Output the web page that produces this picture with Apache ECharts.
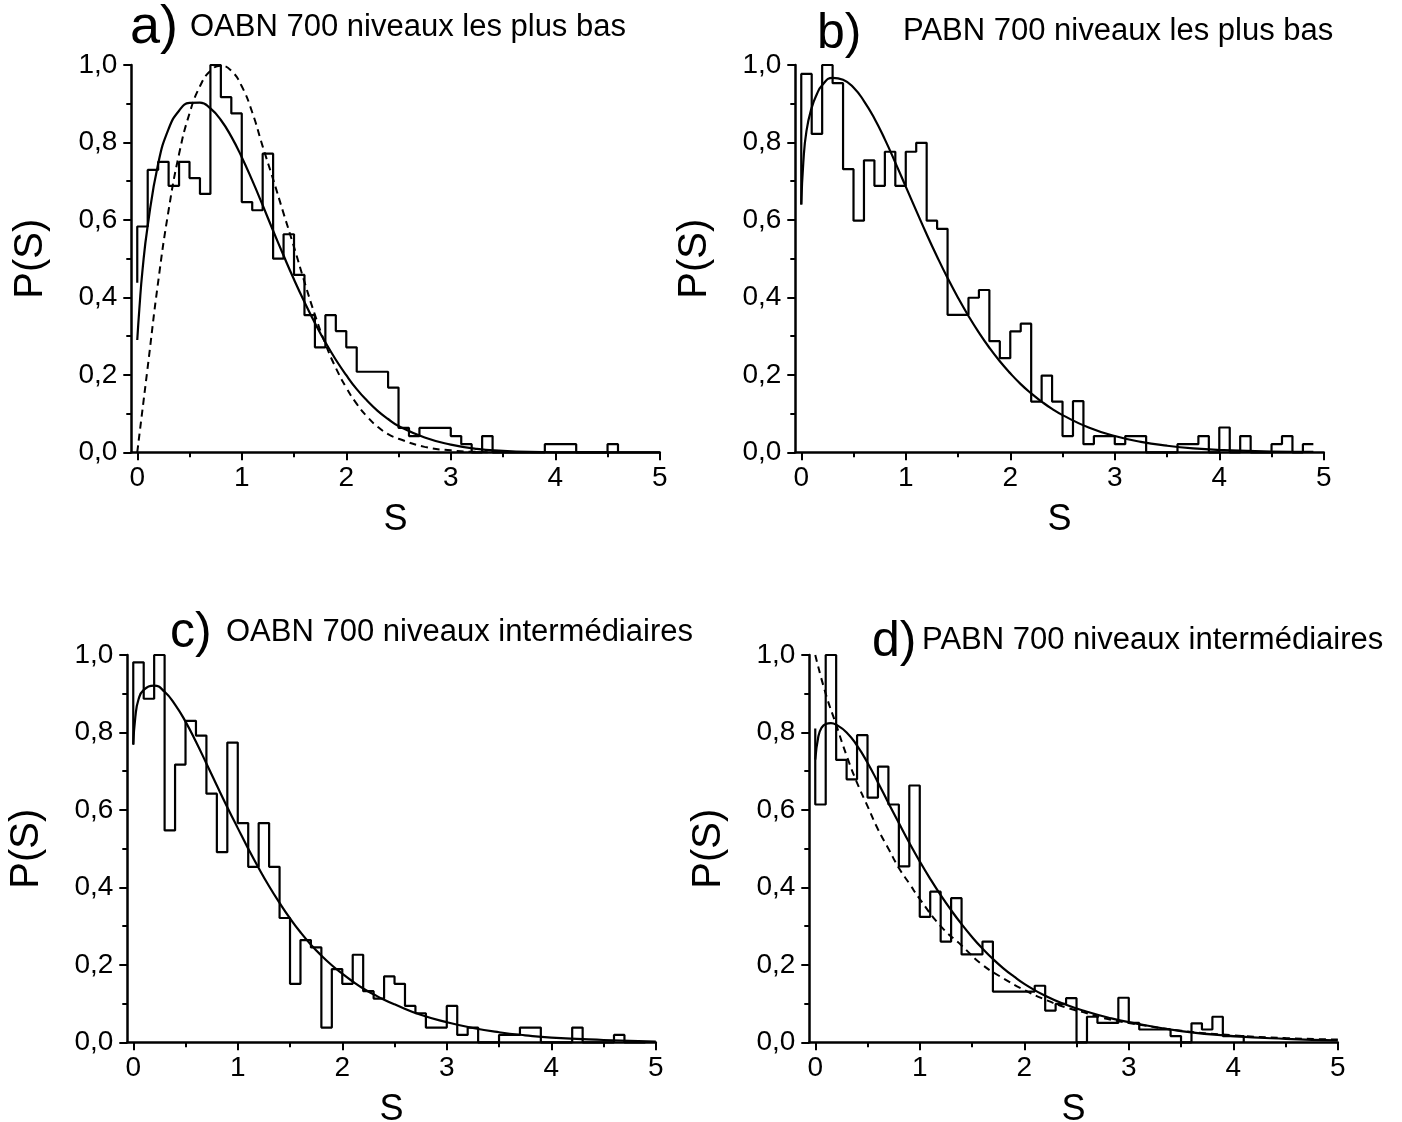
<!DOCTYPE html>
<html>
<head>
<meta charset="utf-8">
<script src="https://cdn.jsdelivr.net/npm/echarts@6/dist/echarts.min.js"></script>
<style>
html,body{margin:0;padding:0;background:#fff;}
#chart{width:1402px;height:1122px;}
</style>
</head>
<body>
<div id="chart"></div>
<script>
// ---------- data ----------
const binWidth = 0.1;
const xMajorTicks = [0, 1, 2, 3, 4, 5];
const xMinorTicks = [0.5, 1.5, 2.5, 3.5, 4.5];

const panelTitles = ['OABN 700 niveaux les plus bas', 'PABN 700 niveaux les plus bas',
                     'OABN 700 niveaux intermédiaires', 'PABN 700 niveaux intermédiaires'];
const panelLetters = ['a)', 'b)', 'c)', 'd)'];

// histograms: bin heights from S = 0 in steps of 0.1
const histAStart = 0.438, histAEnd = 0;
const histA = [0.583,0.729,0.750,0.688,0.750,0.708,0.667,1.000,0.917,0.875,0.646,0.625,0.771,0.500,0.563,0.458,0.354,0.271,0.354,0.313,0.271,0.208,0.208,0.208,0.167,0.063,0.042,0.063,0.063,0.063,0.042,0.021,0,0.042,0,0,0,0,0,0.021,0.021,0.021,0,0,0,0.021];

const histBStart = 0.64, histBEnd = 0.021;
const histB = [0.977,0.822,1.000,0.953,0.731,0.598,0.754,0.688,0.776,0.688,0.776,0.799,0.598,0.577,0.355,0.355,0.399,0.419,0.287,0.243,0.312,0.332,0.131,0.198,0.131,0.042,0.132,0.021,0.042,0.042,0.021,0.042,0.042,0,0,0,0.021,0.021,0.042,0,0.064,0,0.042,0,0,0.021,0.042,0,0.021];

const histCStart = 0.77, histCEnd = 0;
const histC = [0.981,0.887,1.000,0.547,0.717,0.830,0.792,0.642,0.491,0.774,0.566,0.453,0.566,0.453,0.321,0.151,0.264,0.245,0.038,0.189,0.151,0.226,0.132,0.113,0.170,0.151,0.094,0.075,0.038,0.038,0.094,0.019,0.038,0,0,0.019,0.019,0.038,0.038,0,0,0,0.038,0,0,0,0.019,0,0];

const histDStart = 0.81, histDEnd = 0;
const histD = [0.614,1.000,0.729,0.679,0.793,0.632,0.712,0.614,0.454,0.663,0.324,0.389,0.260,0.372,0.227,0.227,0.260,0.131,0.131,0.131,0.131,0.146,0.082,0.099,0.114,0,0.066,0.050,0.050,0.115,0.050,0.033,0.033,0.033,0.016,0,0.049,0.033,0.066,0.016,0.016];

// fitted curves (S, P)
const curveA_S = [0,0.02,0.05,0.1,0.2,0.3,0.4,0.5,0.6,0.7,0.8,0.9,1.0,1.1,1.2,1.3,1.4,1.5,1.6,1.7,1.8,1.9,2.0,2.1,2.2,2.3,2.4,2.5,2.75,3.0,3.25,3.5,3.75,4.0,4.5,5.0];
const curveA_P = [0.29,0.37,0.47,0.585,0.745,0.835,0.882,0.902,0.903,0.888,0.858,0.815,0.762,0.702,0.638,0.572,0.508,0.446,0.388,0.334,0.284,0.239,0.199,0.163,0.133,0.107,0.086,0.068,0.038,0.02,0.009,0.004,0.001,0,0,0];
const dashA_S = [0,0.1,0.2,0.3,0.4,0.5,0.6,0.7,0.8,0.9,1.0,1.1,1.2,1.3,1.4,1.5,1.6,1.7,1.8,1.9,2.0,2.1,2.2,2.3,2.4,2.5,2.75,3.0,3.25,3.5];
const dashA_P = [0,0.22,0.44,0.625,0.77,0.875,0.945,0.985,0.998,0.985,0.945,0.878,0.79,0.705,0.617,0.53,0.44,0.355,0.28,0.218,0.167,0.125,0.092,0.066,0.047,0.035,0.014,0.005,0.001,0];

const curveB_S = [0,0.02,0.05,0.1,0.15,0.2,0.3,0.4,0.5,0.6,0.7,0.8,0.9,1.0,1.1,1.2,1.3,1.4,1.5,1.6,1.7,1.8,1.9,2.0,2.1,2.2,2.3,2.4,2.5,2.75,3.0,3.25,3.5,3.75,4.0,4.5,4.9];
const curveB_P = [0.64,0.75,0.83,0.89,0.925,0.948,0.967,0.962,0.942,0.907,0.862,0.808,0.748,0.686,0.624,0.563,0.505,0.45,0.399,0.352,0.309,0.27,0.235,0.204,0.176,0.152,0.131,0.112,0.096,0.064,0.042,0.027,0.017,0.01,0.006,0.002,0.001];

const curveC_S = [0,0.02,0.05,0.1,0.2,0.3,0.4,0.5,0.6,0.7,0.8,0.9,1.0,1.1,1.2,1.3,1.4,1.5,1.6,1.7,1.8,1.9,2.0,2.1,2.2,2.3,2.4,2.5,2.75,3.0,3.25,3.5,3.75,4.0,4.5,5.0];
const curveC_P = [0.768,0.84,0.885,0.91,0.921,0.905,0.872,0.828,0.776,0.72,0.663,0.607,0.553,0.5,0.45,0.403,0.36,0.32,0.284,0.252,0.224,0.199,0.177,0.157,0.139,0.124,0.11,0.098,0.071,0.052,0.037,0.026,0.018,0.012,0.006,0.002];

const curveD_S = [0,0.03,0.06,0.1,0.15,0.2,0.3,0.4,0.5,0.6,0.7,0.8,0.9,1.0,1.1,1.2,1.3,1.4,1.5,1.6,1.7,1.8,1.9,2.0,2.2,2.4,2.6,2.8,3.0,3.5,4.0,4.5,5.0];
const curveD_P = [0.73,0.79,0.812,0.822,0.824,0.82,0.80,0.766,0.722,0.671,0.618,0.566,0.515,0.467,0.422,0.38,0.341,0.305,0.272,0.242,0.215,0.191,0.17,0.151,0.12,0.097,0.079,0.064,0.052,0.029,0.016,0.009,0.005];
const dashD_S = [0,0.1,0.2,0.3,0.4,0.5,0.6,0.7,0.8,0.9,1.0,1.2,1.4,1.6,1.8,2.0,2.2,2.4,2.6,2.8,3.0,3.5,4.0,4.5,5.0];
const dashD_P = [1.0,0.90,0.82,0.74,0.67,0.61,0.55,0.50,0.45,0.41,0.37,0.30,0.25,0.20,0.165,0.135,0.11,0.09,0.075,0.06,0.05,0.03,0.018,0.011,0.007];

// ---------- build ----------
const FONT = "'Liberation Sans', Arial, Helvetica, sans-serif";
const BLACK = '#000';

function stepData(start, heights, end) {
  const pts = [[0, start]];
  heights.forEach((h, i) => pts.push([+(i * binWidth).toFixed(2), h]));
  pts.push([+(heights.length * binWidth).toFixed(2), end]);
  return pts;
}
function zip(xs, ys) { return xs.map((x, i) => [x, ys[i]]); }

const grids = [
  {left: 131.3, top: 65, width: 528.5, height: 387.3, outerBoundsMode: 'none', containLabel: false},
  {left: 795.3, top: 65, width: 528.5, height: 387.3, outerBoundsMode: 'none', containLabel: false},
  {left: 127.3, top: 655, width: 528.5, height: 387.3, outerBoundsMode: 'none', containLabel: false},
  {left: 809.3, top: 655, width: 528.5, height: 387.3, outerBoundsMode: 'none', containLabel: false}
];

const xAxes = [], yAxes = [];
grids.forEach((g, i) => {
  xAxes.push({
    gridIndex: i, type: 'value', min: -0.057, max: 5, position: 'bottom',
    axisLine: {show: true, onZero: false, lineStyle: {color: BLACK, width: 2.5}},
    axisTick: {show: true, length: 8, customValues: xMajorTicks, lineStyle: {color: BLACK, width: 2}},
    axisLabel: {show: true, customValues: xMajorTicks, margin: 12, fontSize: 28, color: BLACK, fontFamily: FONT},
    splitLine: {show: false},
    name: 'S', nameLocation: 'middle', nameGap: 50,
    nameTextStyle: {fontSize: 36, color: BLACK, fontFamily: FONT}
  });
  xAxes.push({
    gridIndex: i, type: 'value', min: -0.057, max: 5, position: 'bottom', offset: 0,
    axisLine: {show: false},
    axisTick: {show: true, length: 5, customValues: xMinorTicks, lineStyle: {color: BLACK, width: 2}},
    axisLabel: {show: false},
    splitLine: {show: false}
  });
  yAxes.push({
    gridIndex: i, type: 'value', min: 0, max: 1, interval: 0.2,
    axisLine: {show: true, onZero: false, lineStyle: {color: BLACK, width: 2.5}},
    axisTick: {show: true, length: 8, lineStyle: {color: BLACK, width: 2}},
    minorTick: {show: true, splitNumber: 2, length: 5, lineStyle: {color: BLACK, width: 2}},
    axisLabel: {margin: 14, fontSize: 28, color: BLACK, fontFamily: FONT,
      formatter: v => v.toFixed(1).replace('.', ',')},
    splitLine: {show: false}, minorSplitLine: {show: false},
    name: 'P(S)', nameLocation: 'middle', nameGap: 80,
    nameTextStyle: {fontSize: 40, color: BLACK, fontFamily: FONT}
  });
});

const hists = [
  stepData(histAStart, histA, histAEnd),
  stepData(histBStart, histB, histBEnd),
  stepData(histCStart, histC, histCEnd),
  stepData(histDStart, histD, histDEnd)
];
const solids = [zip(curveA_S, curveA_P), zip(curveB_S, curveB_P), zip(curveC_S, curveC_P), zip(curveD_S, curveD_P)];
const dashes = [zip(dashA_S, dashA_P), null, null, zip(dashD_S, dashD_P)];

const series = [];
for (let i = 0; i < 4; i++) {
  series.push({
    type: 'line', xAxisIndex: 2 * i, yAxisIndex: i, data: hists[i], step: 'end',
    showSymbol: false, clip: false, silent: true,
    lineStyle: {color: BLACK, width: 2.2}
  });
  series.push({
    type: 'line', xAxisIndex: 2 * i, yAxisIndex: i, data: solids[i], smooth: 0.5,
    showSymbol: false, clip: false, silent: true,
    lineStyle: {color: BLACK, width: 2.2}
  });
  if (dashes[i]) {
    series.push({
      type: 'line', xAxisIndex: 2 * i, yAxisIndex: i, data: dashes[i], smooth: 0.5,
      showSymbol: false, clip: false, silent: true,
      lineStyle: {color: BLACK, width: 2, type: [7, 5]}
    });
  }
}

const letterPos = [[130, 28], [817, 34], [170, 633], [872, 642]];
const letterSize = [54, 50, 50, 50];
const titlePos = [[190, 27], [903, 31], [226, 632], [922, 640]];
const graphics = [];
for (let i = 0; i < 4; i++) {
  graphics.push({type: 'text', x: letterPos[i][0], y: letterPos[i][1],
    style: {text: panelLetters[i], font: letterSize[i] + 'px ' + FONT, fill: BLACK, textAlign: 'left', textVerticalAlign: 'middle'}});
  graphics.push({type: 'text', x: titlePos[i][0], y: titlePos[i][1],
    style: {text: panelTitles[i], font: '31px ' + FONT, fill: BLACK, textAlign: 'left', textVerticalAlign: 'middle'}});
}

const chart = echarts.init(document.getElementById('chart'), null, {renderer: 'canvas'});
chart.setOption({
  animation: false,
  backgroundColor: '#fff',
  grid: grids,
  xAxis: xAxes,
  yAxis: yAxes,
  series: series,
  graphic: graphics
});
</script>
</body>
</html>
